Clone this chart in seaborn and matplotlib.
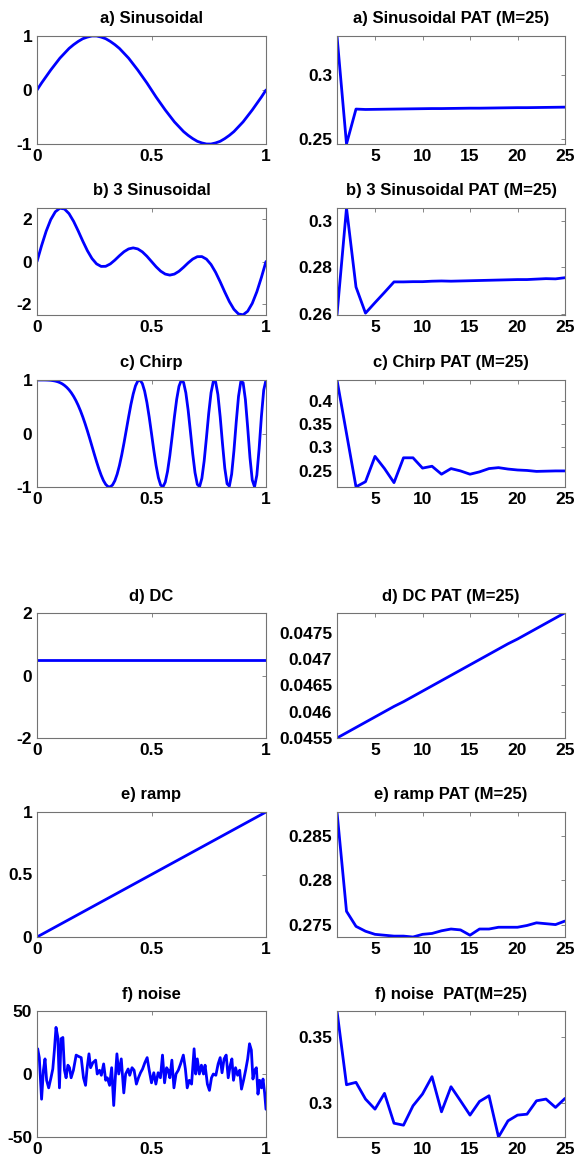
import numpy as np
import pandas as pd
import seaborn as sns
import matplotlib
matplotlib.use("Agg")
import matplotlib.pyplot as plt
from matplotlib.ticker import FuncFormatter

# ---- data ----
t50 = [i / 50 for i in range(51)]
t100 = [i / 100 for i in range(101)]

sinus = [0, 0.13, 0.25, 0.37, 0.48, 0.59, 0.68, 0.77, 0.84, 0.90, 0.95, 0.98, 1.0,
         1.0, 0.98, 0.95, 0.90, 0.84, 0.77, 0.68, 0.59, 0.48, 0.37, 0.25, 0.13, 0,
         -0.13, -0.25, -0.37, -0.48, -0.59, -0.68, -0.77, -0.84, -0.90, -0.95, -0.98, -1.0,
         -1.0, -0.98, -0.95, -0.90, -0.84, -0.77, -0.68, -0.59, -0.48, -0.37, -0.25, -0.13, 0]

sinus3 = [0, 0.742, 1.415, 1.957, 2.324, 2.490, 2.453, 2.235, 1.874, 1.427, 0.951,
          0.506, 0.141, -0.110, -0.230, -0.225, -0.114, 0.065, 0.270, 0.457, 0.588,
          0.636, 0.588, 0.451, 0.245, 0, -0.245, -0.451, -0.588, -0.636, -0.588,
          -0.457, -0.270, -0.065, 0.114, 0.225, 0.230, 0.110, -0.141, -0.506, -0.951,
          -1.427, -1.874, -2.235, -2.453, -2.490, -2.324, -1.957, -1.415, -0.742, 0]

chirp = [1, 1.0, 1.0, 1.0, 0.999, 0.997, 0.994, 0.988, 0.980, 0.968, 0.951,
         0.929, 0.899, 0.862, 0.816, 0.760, 0.693, 0.615, 0.525, 0.423, 0.309,
         0.184, 0.050, -0.091, -0.237, -0.383, -0.525, -0.659, -0.778, -0.878, -0.951,
         -0.993, -0.997, -0.961, -0.882, -0.760, -0.598, -0.400, -0.175, 0.066, 0.309,
         0.539, 0.737, 0.890, 0.980, 0.997, 0.934, 0.792, 0.578, 0.306, 0,
         -0.312, -0.598, -0.825, -0.965, -0.997, -0.910, -0.709, -0.414, -0.060, 0.309,
         0.640, 0.882, 0.995, 0.955, 0.760, 0.437, 0.035, -0.380, -0.731, -0.951,
         -0.992, -0.837, -0.512, -0.075, 0.383, 0.762, 0.975, 0.965, 0.727, 0.309,
         -0.190, -0.647, -0.940, -0.985, -0.760, -0.321, 0.215, 0.694, 0.969, 0.951,
         0.635, 0.113, -0.451, -0.870, -0.997, -0.778, -0.282, 0.321, 0.811, 1.0]

dc_t = [0, 1]
dc = [0.5, 0.5]
ramp_t = [0, 1]
ramp = [0, 1]

noise_t = [0, 0.003, 0.010, 0.020, 0.028, 0.035, 0.042, 0.051, 0.061, 0.069, 0.076,
           0.083, 0.091, 0.098, 0.105, 0.113, 0.120, 0.127, 0.135, 0.142, 0.149,
           0.159, 0.171, 0.181, 0.193, 0.203, 0.212, 0.219, 0.227, 0.234, 0.244,
           0.256, 0.263, 0.273, 0.281, 0.291, 0.300, 0.307, 0.317, 0.326, 0.335,
           0.342, 0.349, 0.357, 0.368, 0.379, 0.387, 0.398, 0.405, 0.415, 0.424,
           0.434, 0.443, 0.452, 0.461, 0.471, 0.481, 0.490, 0.500, 0.510, 0.519,
           0.529, 0.539, 0.548, 0.557, 0.566, 0.573, 0.580, 0.589, 0.598, 0.607,
           0.617, 0.627, 0.639, 0.648, 0.656, 0.665, 0.675, 0.686, 0.693, 0.700,
           0.709, 0.718, 0.727, 0.734, 0.744, 0.753, 0.762, 0.770, 0.781, 0.791,
           0.800, 0.808, 0.817, 0.826, 0.835, 0.844, 0.851, 0.858, 0.867, 0.876,
           0.885, 0.893, 0.902, 0.911, 0.920, 0.928, 0.936, 0.943, 0.950, 0.958,
           0.965, 0.972, 0.980, 0.987, 0.994, 1.000]
noise = [15, 20, 13, -20, 3, 12, -5, -11, -3, 4, 19,
         37, 29, -11, 28, 29, 3, -3, 7, 5, -3,
         3, 15, 14, 13, -3, -9, 5, 16, 5, 9,
         11, 0, 3, -1, 8, -5, -3, -9, 5, -25,
         -3, 16, 0, 12, -15, 0, 4, -1, 5, 3,
         -8, -3, 1, 4, 9, 13, 3, -7, 1, -8,
         1, -3, 15, -7, 5, 3, -3, 11, -11, 0,
         3, 8, 15, 4, -11, -5, -8, 20, 0, 12,
         0, 7, 0, 7, -8, -13, -3, 0, -1, 8,
         13, 1, 12, 15, -3, 7, 12, -5, 5, -1,
         3, -12, -5, 3, 12, 24, 19, -4, 3, 5,
         -16, -5, -11, -4, -15, -28]

M = list(range(1, 26))
pat_sin = [0.330, 0.2465, 0.2735, 0.2732, 0.2733, 0.2734, 0.2735, 0.2736, 0.2737,
           0.2738, 0.2739, 0.2739, 0.2740, 0.2741, 0.2742, 0.2742, 0.2743, 0.2744,
           0.2745, 0.2746, 0.2746, 0.2747, 0.2748, 0.2749, 0.2750]
pat_sin3 = [0.2597, 0.3055, 0.2716, 0.2604, 0.2649, 0.2693, 0.2738, 0.2738, 0.2739,
            0.2739, 0.2741, 0.2742, 0.2741, 0.2742, 0.2743, 0.2744, 0.2745, 0.2746,
            0.2747, 0.2748, 0.2748, 0.2750, 0.2752, 0.2751, 0.2756]
pat_chirp = [0.444, 0.330, 0.216, 0.227, 0.281, 0.255, 0.225, 0.278, 0.278, 0.256,
             0.260, 0.243, 0.255, 0.250, 0.243, 0.248, 0.255, 0.257, 0.254, 0.252,
             0.251, 0.249, 0.2495, 0.250, 0.250]
pat_dc = [0.04550, 0.04560, 0.04570, 0.04580, 0.04590, 0.04600, 0.04610, 0.04619,
          0.04629, 0.04639, 0.04649, 0.04659, 0.04669, 0.04679, 0.04689, 0.04699,
          0.04709, 0.04719, 0.04729, 0.04738, 0.04748, 0.04758, 0.04768, 0.04778, 0.04788]
pat_ramp = [0.2877, 0.2765, 0.2748, 0.27425, 0.2739, 0.2738, 0.2737, 0.2737, 0.2736,
            0.2739, 0.2740, 0.2743, 0.2745, 0.2744, 0.2738, 0.2745, 0.2745, 0.2747,
            0.2747, 0.2747, 0.2749, 0.2752, 0.2751, 0.2750, 0.2754]
pat_noise = [0.3697, 0.3141, 0.3159, 0.3033, 0.2957, 0.3076, 0.2851, 0.2836, 0.2982,
             0.3071, 0.3202, 0.2937, 0.3126, 0.3020, 0.2912, 0.3015, 0.3058, 0.2747,
             0.2869, 0.2912, 0.2919, 0.3020, 0.3033, 0.2970, 0.3038]

# ---- style ----
sns.set_style("white")
plt.rcParams["font.family"] = ["Liberation Sans", "DejaVu Sans"]
plt.rcParams["font.weight"] = "bold"
plt.rcParams["text.color"] = "black"

W, H = 586, 1165
fig = plt.figure(figsize=(W / 100, H / 100), dpi=100)

def box(x0, x1, top, bottom):
    return [x0 / W, 1 - bottom / H, (x1 - x0) / W, (bottom - top) / H]

rows = [(36, 144), (208, 315), (380, 487), (613, 738), (812, 937), (1011, 1137)]
fmt = FuncFormatter(lambda v, p: "%g" % round(v, 6))

left = [
    ("a) Sinusoidal", t50, sinus, (-1, 1), [-1, 0, 1]),
    ("b) 3 Sinusoidal", t50, sinus3, (-2.5, 2.5), [-2, 0, 2]),
    ("c) Chirp", t100, chirp, (-1, 1), [-1, 0, 1]),
    ("d) DC", dc_t, dc, (-2, 2), [-2, 0, 2]),
    ("e) ramp", ramp_t, ramp, (0, 1), [0, 0.5, 1]),
    ("f) noise", noise_t, noise, (-50, 50), [-50, 0, 50]),
]
right = [
    ("a) Sinusoidal PAT (M=25)", pat_sin, (0.2465, 0.330), [0.25, 0.3]),
    ("b) 3 Sinusoidal PAT (M=25)", pat_sin3, (0.2596, 0.3055), [0.26, 0.28, 0.3]),
    ("c) Chirp PAT (M=25)", pat_chirp, (0.2157, 0.444), [0.25, 0.3, 0.35, 0.4]),
    ("d) DC PAT (M=25)", pat_dc, (0.0455, 0.047875), [0.0455, 0.046, 0.0465, 0.047, 0.0475]),
    ("e) ramp PAT (M=25)", pat_ramp, (0.2736, 0.2877), [0.275, 0.28, 0.285]),
    ("f) noise  PAT(M=25)", pat_noise, (0.2747, 0.3697), [0.3, 0.35]),
]

def style(ax, title):
    ax.set_title(title, fontsize=12, fontweight="bold", pad=9, color="black")
    ax.tick_params(direction="in", length=3, width=0.6, top=True, right=True,
                   labelsize=12.5, pad=3.5, color="0.45", labelcolor="black")
    for lab in ax.get_xticklabels() + ax.get_yticklabels():
        lab.set_fontweight("bold")
    for s in ax.spines.values():
        s.set_color("0.45")
        s.set_linewidth(0.8)
    ax.set_xlabel("")
    ax.set_ylabel("")

for (top, bot), (title, x, y, ylim, yt) in zip(rows, left):
    ax = fig.add_axes(box(37, 266, top, bot))
    sns.lineplot(x=x, y=y, ax=ax, color="#0000ff", linewidth=2.0)
    ax.set_xlim(0, 1)
    ax.set_ylim(*ylim)
    ax.set_xticks([0, 0.5, 1])
    ax.set_yticks(yt)
    ax.xaxis.set_major_formatter(fmt)
    ax.yaxis.set_major_formatter(fmt)
    style(ax, title)

for (top, bot), (title, y, ylim, yt) in zip(rows, right):
    ax = fig.add_axes(box(337, 565, top, bot))
    sns.lineplot(x=M, y=y, ax=ax, color="#0000ff", linewidth=2.0)
    ax.set_xlim(1, 25)
    ax.set_ylim(*ylim)
    ax.set_xticks([5, 10, 15, 20, 25])
    ax.set_yticks(yt)
    ax.xaxis.set_major_formatter(fmt)
    ax.yaxis.set_major_formatter(fmt)
    style(ax, title)

fig.savefig("out.png", dpi=100, facecolor="white")
